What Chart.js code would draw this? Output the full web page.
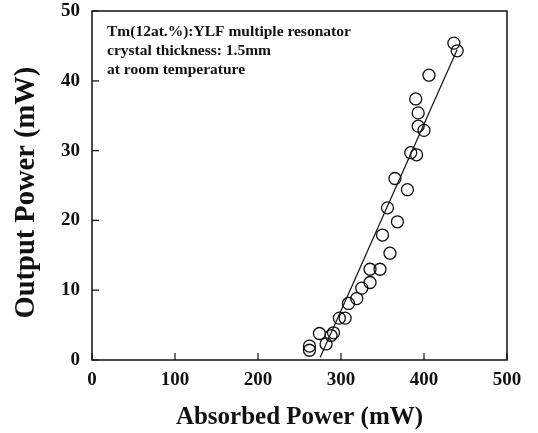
<!DOCTYPE html>
<html>
<head>
<meta charset="utf-8">
<script src="https://cdn.jsdelivr.net/npm/chart.js@4.4.1/dist/chart.umd.min.js"></script>
<style>
html, body { margin: 0; padding: 0; background: #fff; }
</style>
</head>
<body>
<canvas id="chart" width="538" height="433"></canvas>
<script>
// measured points: absorbed power (mW) vs output power (mW)
const absorbed = [262, 262, 274, 282, 288, 291, 298, 305, 309, 319, 325, 335, 335, 347, 350, 359, 356, 368, 365, 380, 384, 391, 390, 393, 393, 400, 406, 436, 440];
const output = [2.0, 1.4, 3.8, 2.3, 3.5, 3.9, 6.0, 6.0, 8.1, 8.8, 10.3, 13.0, 11.1, 13.0, 17.9, 15.3, 21.8, 19.8, 26.0, 24.4, 29.7, 29.4, 37.4, 35.4, 33.5, 32.9, 40.8, 45.4, 44.3];

// fitted line
const fitX = [275, 440];
const fitY = [0.4, 44.5];

const xTicks = [0, 100, 200, 300, 400, 500];
const yTicks = [0, 10, 20, 30, 40, 50];

const notes = ['Tm(12at.%):YLF multiple resonator', 'crystal thickness: 1.5mm', 'at room temperature'];

const serif = '"Liberation Serif", "Times New Roman", serif';
const ink = '#111';

const points = absorbed.map((x, i) => ({x: x, y: output[i]}));
const fitLine = fitX.map((x, i) => ({x: x, y: fitY[i]}));

// box, inward ticks and the note text
const frame = {
    id: 'frame',
    afterDraw(chart) {
        const ctx = chart.ctx;
        const a = chart.chartArea;
        const xs = chart.scales.x;
        const ys = chart.scales.y;
        ctx.save();
        ctx.strokeStyle = ink;
        ctx.lineWidth = 1.5;
        ctx.strokeRect(a.left, a.top, a.right - a.left, a.bottom - a.top);
        ctx.lineWidth = 1.2;
        ctx.beginPath();
        xTicks.forEach(v => {
            const px = xs.getPixelForValue(v);
            ctx.moveTo(px, a.bottom);
            ctx.lineTo(px, a.bottom - 7);
        });
        yTicks.forEach(v => {
            const py = ys.getPixelForValue(v);
            ctx.moveTo(a.left, py);
            ctx.lineTo(a.left + 7, py);
        });
        ctx.stroke();

        ctx.fillStyle = ink;
        ctx.font = 'bold 15.5px ' + serif;
        ctx.textBaseline = 'middle';
        ctx.textAlign = 'left';
        notes.forEach((t, i) => {
            ctx.fillText(t, a.left + 15, a.top + 21 + i * 19);
        });
        ctx.restore();
    }
};

new Chart(document.getElementById('chart'), {
    type: 'scatter',
    data: {
        datasets: [{
            data: points,
            pointStyle: 'circle',
            pointRadius: 6,
            borderColor: ink,
            backgroundColor: 'rgba(0,0,0,0)',
            borderWidth: 1.3
        }, {
            data: fitLine,
            showLine: true,
            pointRadius: 0,
            borderColor: ink,
            borderWidth: 1.2
        }]
    },
    options: {
        responsive: false,
        animation: false,
        layout: {padding: {top: 11, right: 31, left: 0, bottom: 0}},
        plugins: {legend: {display: false}, tooltip: {enabled: false}},
        scales: {
            x: {
                type: 'linear',
                min: 0,
                max: 500,
                afterBuildTicks: s => { s.ticks = xTicks.map(v => ({value: v})); },
                ticks: {color: ink, padding: 9, font: {family: serif, size: 19, weight: 'bold'}},
                grid: {drawOnChartArea: false, drawTicks: false},
                border: {display: false},
                title: {display: true, text: 'Absorbed Power (mW)', color: ink,
                        font: {family: serif, size: 25, weight: 'bold'}, padding: {top: 0, bottom: 0}},
                afterFit: s => { s.height = 73; s.paddingLeft = 0; s.paddingRight = 0; }
            },
            y: {
                type: 'linear',
                min: 0,
                max: 50,
                afterBuildTicks: s => { s.ticks = yTicks.map(v => ({value: v})); },
                ticks: {color: ink, padding: 12, font: {family: serif, size: 19, weight: 'bold'}},
                grid: {drawOnChartArea: false, drawTicks: false},
                border: {display: false},
                // trailing spaces nudge the rotated title down a little
                title: {display: true, text: 'Output Power (mW)  ', color: ink,
                        font: {family: serif, size: 28.5, weight: 'bold'}, padding: {top: 10, bottom: 0}},
                afterFit: s => { s.width = 92; s.paddingTop = 0; s.paddingBottom = 0; }
            }
        }
    },
    plugins: [frame]
});
</script>
</body>
</html>
